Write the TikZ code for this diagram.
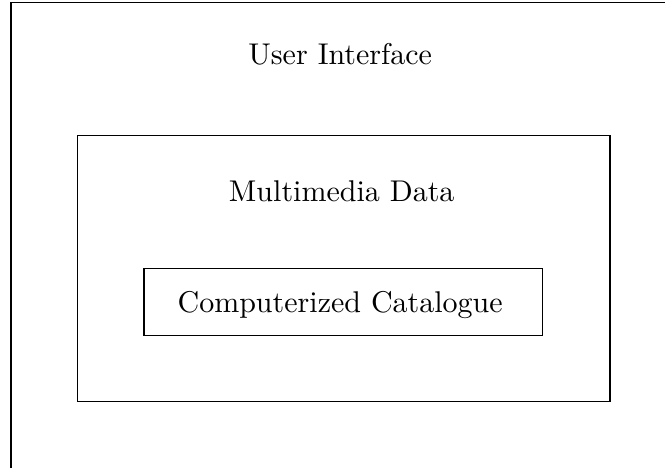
\documentclass[tikz,border=0pt]{standalone}
\begin{document}
\begin{tikzpicture}[x=1pt,y=-1pt,
  box/.style={draw,line width=0.4pt,inner sep=0pt,anchor=north west},
  lbl/.style={inner sep=0pt,anchor=base,font=\normalsize}]
\useasboundingbox (0,0) rectangle (221.67,155.67);
\node[box,minimum width=300pt,minimum height=250pt] (ui) at (3.45,0.55) {};
\node[box,minimum width=177.5pt,minimum height=88.8pt] (mm) at (25.6,44.9) {};
\node[box,minimum width=132.9pt,minimum height=22.4pt] (cc) at (47.8,89.3) {};
\node[lbl] (uit) at (113.4,21.4) {User Interface};
\node[lbl] (mmt) at (113.9,67.2) {Multimedia Data};
\node[lbl] (cct) at (113.4,104.1) {Computerized Catalogue};
\end{tikzpicture}
\end{document}
